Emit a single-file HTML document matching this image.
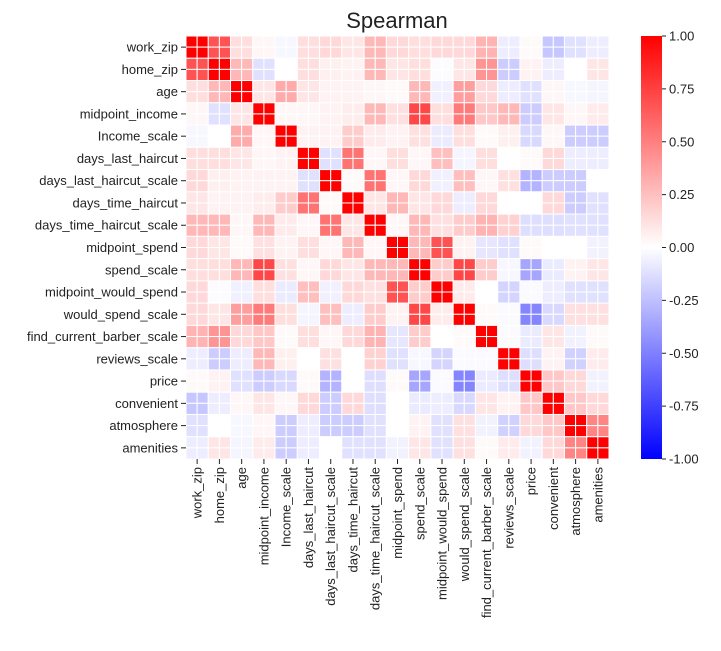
<!DOCTYPE html>
<html><head><meta charset="utf-8"><style>
body{margin:0;background:#fff;font-family:"Liberation Sans",sans-serif}
svg text{font-family:"Liberation Sans",sans-serif;fill:#222}
</style></head><body>
<svg id="chart" width="721" height="646" xmlns="http://www.w3.org/2000/svg">
<text x="397" y="28" text-anchor="middle" font-size="22">Spearman</text>
<g id="cells"></g>
<g id="ylab"></g>
<g id="xlab"></g>
<g id="cbar"></g>
</svg>
<script>
const labels=["work_zip","home_zip","age","midpoint_income","Income_scale","days_last_haircut","days_last_haircut_scale","days_time_haircut","days_time_haircut_scale","midpoint_spend","spend_scale","midpoint_would_spend","would_spend_scale","find_current_barber_scale","reviews_scale","price","convenient","atmosphere","amenities"];
const upper=[
[1,.68,.13,.03,-.03,.13,.15,.1,.28,.15,.13,.15,.15,.3,-.07,.02,-.22,-.12,-.07],
[1,.28,-.12,0,.13,.06,.05,.28,.1,.13,-.01,.1,.42,-.2,.05,-.07,0,.1],
[1,.1,.33,.1,.05,.05,.03,.02,.28,-.06,.38,.15,-.07,-.12,.03,-.03,-.04],
[1,.03,.03,.05,.07,.28,.12,.72,.13,.52,.22,.28,-.2,.1,.03,.08],
[1,.05,.05,.2,.08,.05,.12,-.08,.13,.02,.06,-.15,.03,-.2,-.2],
[1,-.12,.55,.03,.13,.03,.25,-.04,.13,0,.02,.15,-.07,-.07],
[1,.02,.55,.03,.15,-.06,.25,.03,.12,-.3,-.2,-.2,0],
[1,.1,.28,.1,.15,-.07,.15,0,0,.15,-.2,-.12],
[1,.03,.28,.12,.2,.3,.18,-.13,-.13,-.12,-.12],
[1,.28,.68,.05,-.1,-.12,.02,0,0,-.05],
[1,.2,.72,.2,-.03,-.35,-.08,.05,.1],
[1,.08,0,-.17,-.02,-.07,-.12,-.12],
[1,.02,-.02,-.48,-.15,.12,.12],
[1,-.02,-.08,.1,-.05,.02],
[1,-.13,.05,-.18,.08],
[1,.22,.15,-.05],
[1,.22,.15],
[1,.48],
[1]];
const cbTicks=[1,0.75,0.5,0.25,0,-0.25,-0.5,-0.75,-1];
const NS="http://www.w3.org/2000/svg";
const X0=186,Y0=36,W=423,n=labels.length,B=W/n,S=B/2;
function val(i,j){return i<=j?upper[i][j-i]:upper[j][i-j];}
function color(v){v=Math.max(-1,Math.min(1,v));
 if(v>=0){const g=Math.round(255*(1-v));return `rgb(255,${g},${g})`;}
 const g=Math.round(255*(1+v));return `rgb(${g},${g},255)`;}
function mk(t,a,p){const e=document.createElementNS(NS,t);for(const k in a)e.setAttribute(k,a[k]);p.appendChild(e);return e;}
const cells=document.getElementById('cells');
for(let i=0;i<n;i++)for(let j=0;j<n;j++){
 const v=val(i,j);
 for(let a=0;a<2;a++)for(let b=0;b<2;b++){
  const r=mk('rect',{x:X0+j*B+b*S,y:Y0+i*B+a*S,width:S,height:S,fill:color(v),stroke:'#fff','stroke-width':1},cells);
  
  
 }}
const yl=document.getElementById('ylab'),xl=document.getElementById('xlab');
labels.forEach((l,i)=>{
 const cy=Y0+(i+0.5)*B, cx=X0+(i+0.5)*B;
 mk('line',{x1:181,x2:186,y1:cy,y2:cy,stroke:'#222','stroke-width':1},yl);
 const t=mk('text',{x:178,y:cy+4.5,'text-anchor':'end','font-size':13},yl);t.textContent=l;
 
 
 mk('line',{x1:cx,x2:cx,y1:459,y2:464,stroke:'#222','stroke-width':1},xl);
 const u=mk('text',{x:0,y:0,'text-anchor':'end','font-size':13,transform:`translate(${cx+4.5},467) rotate(-90)`},xl);u.textContent=l;
 
 
});
const cb=document.getElementById('cbar');
const CX=641,CW=21,CY0=36,CY1=459;
const defs=mk('defs',{},cb);
const lg=mk('linearGradient',{id:'g',x1:0,y1:0,x2:0,y2:1},defs);
mk('stop',{offset:'0','stop-color':'#ff0000'},lg);
mk('stop',{offset:'0.5','stop-color':'#ffffff'},lg);
mk('stop',{offset:'1','stop-color':'#0000ff'},lg);
const cr=mk('rect',{x:CX,y:CY0,width:CW,height:CY1-CY0,fill:'url(#g)'},cb);


cbTicks.forEach(v=>{
 const y=CY0+(1-v)/2*(CY1-CY0);
 mk('line',{x1:CX+CW,x2:CX+CW+4,y1:y,y2:y,stroke:'#222','stroke-width':1},cb);
 const t=mk('text',{x:CX+CW+7,y:y+4.5,'font-size':13},cb);t.textContent=v.toFixed(2);
 
 
});
</script>
</body></html>
